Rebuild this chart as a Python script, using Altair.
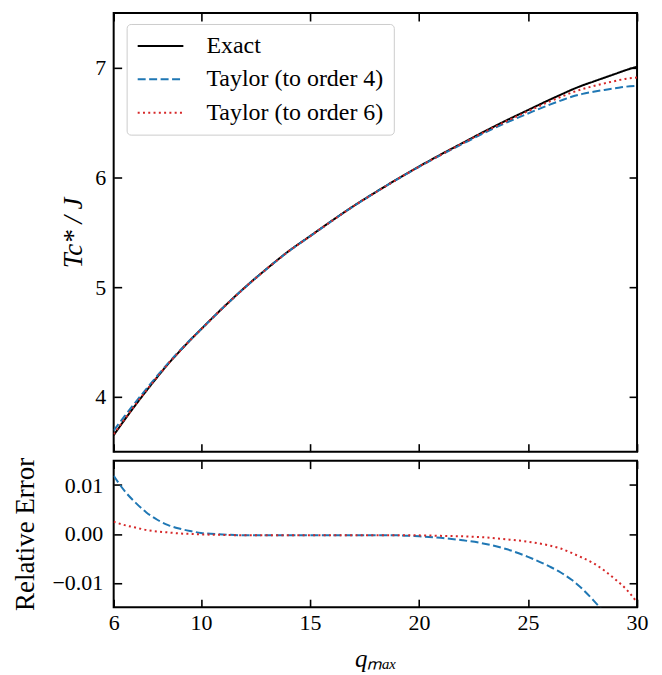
import altair as alt
import pandas as pd

# ---- data ----
q = [6, 6.5, 7, 7.5, 8, 8.5, 9, 9.5, 10, 11, 12, 13, 14, 15, 16, 17, 18, 19, 20,
     21, 22, 23, 24, 25, 26, 26.5, 27, 27.5, 28, 28.5, 29, 29.5, 30]
exact = [3.65, 3.79, 3.925, 4.055, 4.18, 4.30, 4.41, 4.515, 4.615, 4.81, 4.995,
         5.165, 5.325, 5.465, 5.605, 5.74, 5.865, 5.985, 6.10, 6.21, 6.315, 6.42,
         6.52, 6.615, 6.71, 6.755, 6.80, 6.84, 6.875, 6.91, 6.945, 6.98, 7.01]
err4 = [0.0119, 0.0088, 0.0064, 0.0044, 0.0029, 0.0018, 0.0011, 0.0006, 0.0002,
        -0.0001, -0.0003, -0.0003, -0.0003, -0.0003, -0.0003, -0.0003, -0.0003,
        -0.0003, -0.0005, -0.0008, -0.0013, -0.0020, -0.0031, -0.0047, -0.0067,
        -0.0079, -0.0094, -0.0113, -0.0136, -0.0161, -0.0189, -0.0217, -0.0247]
err6 = [0.0025, 0.0018, 0.0013, 0.0008, 0.0005, 0.0003, 0.0001, 0.0000, -0.0001,
        -0.0002, -0.0003, -0.0003, -0.0003, -0.0003, -0.0003, -0.0003, -0.0003,
        -0.0003, -0.0003, -0.0004, -0.0005, -0.0007, -0.0011, -0.0016, -0.0024,
        -0.0030, -0.0039, -0.0049, -0.0060, -0.0075, -0.0093, -0.0113, -0.0140]

series = ["Exact", "Taylor (to order 4)", "Taylor (to order 6)"]
colors = ["#000000", "#1f77b4", "#d62728"]
dashes = [[1, 0], [8, 3.5], [2, 3.3]]

x_ticks = [6, 10, 15, 20, 25, 30]
top_ticks = [4, 5, 6, 7]
err_ticks = [-0.01, 0.0, 0.01]

rows_top = []
rows_err = []
for i, x in enumerate(q):
    rows_top.append({"q": x, "v": exact[i], "s": series[0]})
    rows_top.append({"q": x, "v": exact[i] * (1 + err4[i]), "s": series[1]})
    rows_top.append({"q": x, "v": exact[i] * (1 + err6[i]), "s": series[2]})
    rows_err.append({"q": x, "v": err4[i], "s": series[1]})
    rows_err.append({"q": x, "v": err6[i], "s": series[2]})
df_top = pd.DataFrame(rows_top)
df_err = pd.DataFrame(rows_err)

FONT = "Liberation Serif"
TICK = 8

xscale = alt.Scale(domain=[6, 30], nice=False, zero=False)
yscale_top = alt.Scale(domain=[3.5, 7.5], nice=False, zero=False)
yscale_err = alt.Scale(domain=[-0.015, 0.015], nice=False, zero=False)


def axis(orient, values, labels=True, title=None, fmt=None, label_pad=8, title_pad=8, italic=False):
    kw = dict(orient=orient, values=values, offset=-TICK, tickSize=TICK,
              domain=False, grid=False, labels=labels, title=title,
              labelPadding=label_pad, titlePadding=title_pad, labelFlush=False)
    if fmt:
        kw["format"] = fmt
    if italic:
        kw["titleFontStyle"] = "italic"
    return alt.Axis(**kw)


legend = alt.Legend(title=None, orient="none", legendX=13, legendY=11, padding=10,
                    fillColor="white", strokeColor="#cccccc", cornerRadius=4,
                    labelFont=FONT, labelFontSize=24, labelLimit=400,
                    symbolType="stroke", symbolStrokeWidth=2, symbolSize=2100,
                    clipHeight=24, labelOffset=22, rowPadding=9.5,
                    labelColor="black")

color = alt.Color("s:N", scale=alt.Scale(domain=series, range=colors), legend=legend)
dash = alt.StrokeDash("s:N", scale=alt.Scale(domain=series, range=dashes), legend=legend)

top_lines = alt.Chart(df_top).mark_line(strokeWidth=2, clip=True, interpolate="monotone").encode(
    x=alt.X("q:Q", scale=xscale, axis=axis("bottom", x_ticks, labels=False)),
    y=alt.Y("v:Q", scale=yscale_top,
            axis=axis("left", top_ticks, title="Tc* / J", italic=True, title_pad=7)),
    color=color, strokeDash=dash,
)
top_mirror = alt.Chart(df_top).mark_line(opacity=0).encode(
    x=alt.X("q:Q", scale=xscale, axis=axis("top", x_ticks, labels=False)),
    y=alt.Y("v:Q", scale=yscale_top, axis=axis("right", top_ticks, labels=False)),
    detail="s:N",
)
top = alt.layer(top_lines, top_mirror).resolve_axis(
    x="independent", y="independent").properties(width=525, height=440)

err_color = alt.Color("s:N", scale=alt.Scale(domain=series, range=colors), legend=None)
err_dash = alt.StrokeDash("s:N", scale=alt.Scale(domain=series, range=dashes), legend=None)

err_lines = alt.Chart(df_err).mark_line(strokeWidth=2, clip=True, interpolate="monotone").encode(
    x=alt.X("q:Q", scale=xscale,
            axis=axis("bottom", x_ticks, title="qₘₐₓ", italic=True,
                      label_pad=5, title_pad=14)),
    y=alt.Y("v:Q", scale=yscale_err,
            axis=axis("left", err_ticks, title="Relative Error", fmt=".2f",
                      label_pad=11, title_pad=13)),
    color=err_color, strokeDash=err_dash,
)
err_mirror = alt.Chart(df_err).mark_line(opacity=0).encode(
    x=alt.X("q:Q", scale=xscale, axis=axis("top", x_ticks, labels=False)),
    y=alt.Y("v:Q", scale=yscale_err, axis=axis("right", err_ticks, labels=False)),
    detail="s:N",
)
bottom = alt.layer(err_lines, err_mirror).resolve_axis(
    x="independent", y="independent").properties(width=525, height=147)

chart = alt.vconcat(top, bottom, spacing=9, bounds="flush").resolve_scale(
    color="independent", strokeDash="independent"
).properties(
    padding={"left": 2, "top": 2, "right": 5, "bottom": 2}
).configure_axis(
    labelFont=FONT, labelFontSize=22, titleFont=FONT, titleFontSize=25,
    titleFontWeight="normal", labelColor="black", titleColor="black",
    tickColor="black", tickWidth=1.6,
).configure_axisLeft(
    titleFontSize=27
).configure_view(stroke="black", strokeWidth=2)

chart.save("out.html", embed_options={"renderer": "svg", "actions": False})
